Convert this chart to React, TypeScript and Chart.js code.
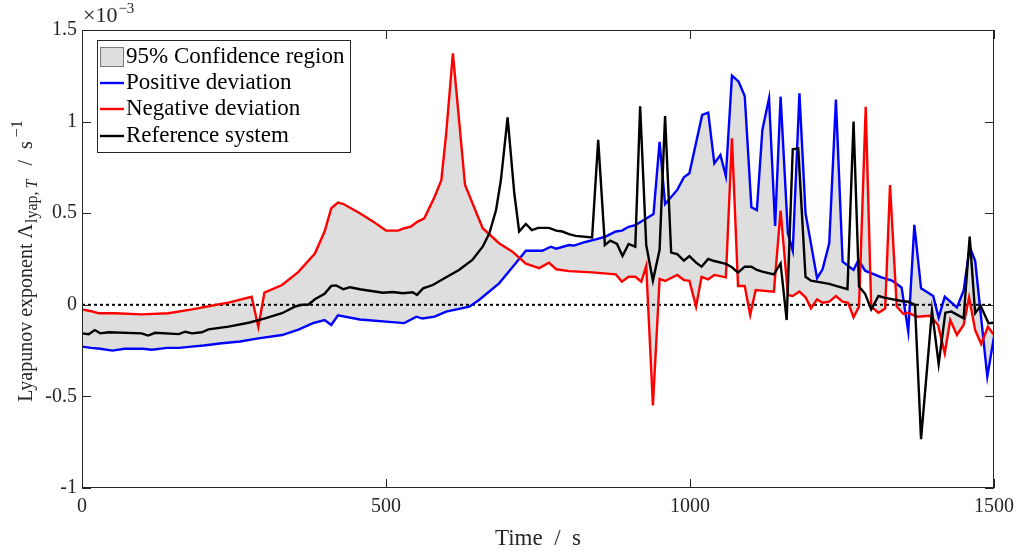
import React, { useEffect, useRef } from "react";
import { Chart, registerables } from "chart.js";

Chart.register(...registerables);

// ---- data (values in units of 1e-3 s^-1) ----
const positiveTime = [0, 15, 30, 50, 70, 100, 115, 140, 160, 180, 200, 230, 260, 290, 329, 356, 380, 399, 410, 421, 457, 500, 530, 550, 560, 580, 599, 637, 653, 686, 713, 730, 757, 771, 780, 801, 809, 828, 845, 861, 878, 888, 899, 910, 924, 940, 950, 959, 979, 990, 999, 1020, 1030, 1040, 1050, 1059, 1069, 1080, 1090, 1101, 1110, 1119, 1130, 1140, 1149, 1161, 1169, 1180, 1190, 1209, 1218, 1229, 1240, 1251, 1269, 1277, 1288, 1315, 1332, 1348, 1359, 1369, 1380, 1400, 1409, 1419, 1439, 1450, 1460, 1469, 1489, 1500];
const positiveValues = [-0.228, -0.235, -0.24, -0.25, -0.24, -0.24, -0.245, -0.235, -0.235, -0.228, -0.222, -0.21, -0.2, -0.183, -0.165, -0.135, -0.1, -0.083, -0.11, -0.058, -0.08, -0.092, -0.1, -0.065, -0.075, -0.065, -0.037, -0.01, 0.026, 0.117, 0.226, 0.295, 0.295, 0.317, 0.306, 0.326, 0.323, 0.343, 0.357, 0.372, 0.4, 0.405, 0.426, 0.435, 0.463, 0.496, 0.89, 0.55, 0.627, 0.696, 0.718, 1.036, 1.049, 0.772, 0.818, 0.703, 1.251, 1.218, 1.14, 0.532, 0.517, 0.954, 1.127, 0.43, 1.136, 0.39, 0.295, 1.154, 0.5, 0.145, 0.194, 0.336, 1.12, 0.235, 0.19, 0.245, 0.186, 0.15, 0.132, 0.095, -0.147, 0.436, 0.09, 0.048, -0.07, 0.044, -0.014, 0.077, 0.317, 0.24, -0.392, -0.174];

const negativeTime = [0, 15, 27, 55, 98, 142, 181, 219, 241, 279, 290, 300, 329, 356, 383, 399, 410, 421, 430, 457, 479, 500, 520, 530, 541, 552, 563, 580, 591, 599, 610, 630, 659, 686, 708, 730, 752, 768, 780, 801, 839, 878, 888, 899, 910, 920, 928, 939, 950, 959, 979, 990, 999, 1010, 1019, 1030, 1040, 1059, 1069, 1079, 1090, 1099, 1108, 1138, 1149, 1161, 1169, 1180, 1190, 1199, 1209, 1218, 1229, 1240, 1251, 1260, 1269, 1278, 1289, 1298, 1310, 1321, 1329, 1340, 1351, 1359, 1373, 1395, 1408, 1419, 1428, 1439, 1450, 1459, 1469, 1479, 1490, 1500];
const negativeValues = [-0.025, -0.035, -0.046, -0.046, -0.052, -0.046, -0.025, -0.001, 0.012, 0.044, -0.12, 0.066, 0.108, 0.18, 0.28, 0.4, 0.527, 0.558, 0.55, 0.5, 0.454, 0.405, 0.405, 0.418, 0.427, 0.454, 0.472, 0.59, 0.68, 0.936, 1.373, 0.654, 0.418, 0.336, 0.29, 0.225, 0.2, 0.23, 0.194, 0.184, 0.177, 0.166, 0.126, 0.153, 0.153, 0.126, 0.212, -0.55, 0.141, 0.13, 0.163, 0.135, 0.131, -0.01, 0.153, 0.139, 0.163, 0.15, 0.909, 0.103, 0.103, -0.056, 0.081, 0.072, 0.514, 0.053, 0.048, 0.072, 0.041, -0.019, 0.03, 0.011, 0.017, 0.048, 0.017, 0.011, -0.068, -0.01, 1.081, -0.01, -0.043, -0.02, 0.654, -0.01, -0.05, -0.043, -0.065, -0.06, -0.11, -0.265, -0.083, -0.165, -0.11, 0.041, -0.138, -0.214, -0.12, -0.165];

const referenceTime = [0, 11, 21, 30, 44, 98, 109, 120, 159, 170, 181, 197, 208, 241, 274, 301, 329, 350, 362, 372, 383, 399, 410, 418, 430, 441, 457, 473, 495, 511, 528, 544, 551, 561, 577, 599, 620, 642, 659, 670, 681, 689, 700, 711, 719, 730, 740, 750, 768, 780, 790, 801, 812, 839, 849, 860, 869, 880, 889, 899, 910, 918, 928, 939, 950, 959, 969, 979, 990, 999, 1010, 1019, 1030, 1040, 1059, 1069, 1079, 1090, 1101, 1110, 1119, 1138, 1149, 1159, 1169, 1178, 1190, 1199, 1229, 1240, 1259, 1269, 1278, 1288, 1298, 1310, 1321, 1348, 1359, 1370, 1380, 1398, 1409, 1420, 1430, 1450, 1460, 1469, 1478, 1491, 1500];
const referenceValues = [-0.156, -0.161, -0.138, -0.156, -0.15, -0.156, -0.168, -0.153, -0.16, -0.147, -0.156, -0.15, -0.134, -0.119, -0.098, -0.074, -0.046, -0.01, 0.0, 0.0, 0.03, 0.06, 0.103, 0.106, 0.085, 0.096, 0.085, 0.077, 0.066, 0.07, 0.063, 0.068, 0.054, 0.09, 0.108, 0.15, 0.19, 0.245, 0.317, 0.39, 0.517, 0.681, 1.023, 0.609, 0.4, 0.441, 0.408, 0.42, 0.42, 0.405, 0.4, 0.386, 0.376, 0.368, 0.9, 0.326, 0.35, 0.332, 0.266, 0.332, 0.317, 1.083, 0.326, 0.132, 0.3, 1.03, 0.285, 0.277, 0.241, 0.266, 0.23, 0.208, 0.25, 0.239, 0.223, 0.205, 0.175, 0.208, 0.208, 0.19, 0.181, 0.166, 0.226, -0.083, 0.849, 0.854, 0.153, 0.132, 0.114, 0.103, 0.085, 1.0, 0.1, 0.06, -0.025, 0.048, 0.038, 0.021, 0.017, 0.0, -0.734, -0.032, -0.323, -0.043, -0.037, -0.074, 0.372, -0.046, -0.006, -0.101, -0.098];

const zeroLineTime = [0, 1500];
const zeroLineValues = [0, 0];

const xTicks = [0, 500, 1000, 1500];
const yTicks = [-1, -0.5, 0, 0.5, 1, 1.5];
const legendLabels = ["95% Confidence region", "Positive deviation", "Negative deviation", "Reference system"];

const FONT = "'Liberation Serif', 'Times New Roman', serif";
const FILL = "rgb(222,222,222)";
const AXIS = "#262626";
const LW = 2.4;

export default function App() {
  const ref = useRef<HTMLCanvasElement>(null);

  useEffect(() => {
    const canvas = ref.current;
    if (!canvas) return;
    const pts = (ts: number[], vs: number[]) => ts.map((t, i) => ({ x: t, y: vs[i] }));

    const decor = {
      id: "decor",
      afterDraw(chart: any) {
        const { ctx, chartArea: a, scales } = chart;
        const xs = scales.x;
        const ys = scales.y;
        ctx.save();
        // ticks (inward, all sides)
        ctx.strokeStyle = AXIS;
        ctx.lineWidth = 1;
        ctx.beginPath();
        for (const v of xTicks) {
          const px = Math.round(xs.getPixelForValue(v)) + 0.5;
          ctx.moveTo(px, a.bottom);
          ctx.lineTo(px, a.bottom - 9);
          ctx.moveTo(px, a.top);
          ctx.lineTo(px, a.top + 9);
        }
        for (const v of yTicks) {
          const py = Math.round(ys.getPixelForValue(v)) + 0.5;
          ctx.moveTo(a.left, py);
          ctx.lineTo(a.left + 9, py);
          ctx.moveTo(a.right, py);
          ctx.lineTo(a.right - 9, py);
        }
        ctx.stroke();
        ctx.strokeRect(Math.round(a.left) + 0.5, Math.round(a.top) + 0.5, Math.round(a.right - a.left) - 1, Math.round(a.bottom - a.top) - 1);

        // legend
        const lx = 97, ly = 40, lw = 253, lh = 112;
        ctx.fillStyle = "#fff";
        ctx.fillRect(lx, ly, lw, lh);
        ctx.strokeStyle = AXIS;
        ctx.strokeRect(lx + 0.5, ly + 0.5, lw, lh);
        const rowBase = [63, 89, 115, 142];
        const colors = ["", "#0000ff", "#ff0000", "#000000"];
        ctx.font = `23px ${FONT}`;
        ctx.textBaseline = "alphabetic";
        ctx.textAlign = "left";
        legendLabels.forEach((lab, i) => {
          const by = rowBase[i];
          if (i === 0) {
            ctx.fillStyle = FILL;
            ctx.fillRect(100, by - 16, 24, 20);
            ctx.strokeStyle = "#7a7a7a";
            ctx.strokeRect(100.5, by - 15.5, 23, 19);
          } else {
            ctx.strokeStyle = colors[i];
            ctx.lineWidth = LW;
            ctx.beginPath();
            ctx.moveTo(100, by - 6);
            ctx.lineTo(124, by - 6);
            ctx.stroke();
            ctx.lineWidth = 1;
          }
          ctx.fillStyle = "#000";
          ctx.fillText(lab, 126, by);
        });

        // exponent label
        ctx.fillStyle = AXIS;
        ctx.font = `22px ${FONT}`;
        ctx.fillText("×10", 83, 22);
        const w10 = ctx.measureText("×10").width;
        ctx.font = `15px ${FONT}`;
        ctx.fillText("−3", 83 + w10 + 1, 13);

        // x title
        ctx.font = `23px ${FONT}`;
        ctx.textAlign = "center";
        ctx.fillText("Time  /  s", (a.left + a.right) / 2, 545);

        // y title (rotated)
        ctx.textAlign = "left";
        const pieces: { t: string; f: string; dy: number; gap: number }[] = [
          { t: "Lyapunov exponent Λ", f: `20px ${FONT}`, dy: 0, gap: 1 },
          { t: "lyap,", f: `16px ${FONT}`, dy: 5, gap: 3 },
          { t: "T", f: `italic 16px ${FONT}`, dy: 5, gap: 14 },
          { t: "/", f: `20px ${FONT}`, dy: 0, gap: 11 },
          { t: "s", f: `20px ${FONT}`, dy: 0, gap: 4 },
          { t: "−1", f: `16px ${FONT}`, dy: -10, gap: 0 },
        ];
        let total = 0;
        const widths = pieces.map((p) => {
          ctx.font = p.f;
          const w = ctx.measureText(p.t).width;
          total += w + p.gap;
          return w;
        });
        ctx.translate(32, 261);
        ctx.rotate(-Math.PI / 2);
        let cx = -total / 2;
        pieces.forEach((p, i) => {
          ctx.font = p.f;
          ctx.fillText(p.t, cx, p.dy);
          cx += widths[i] + p.gap;
        });
        ctx.restore();
      },
    };

    const chart = new Chart(canvas, {
      type: "line",
      data: {
        datasets: [
          {
            label: "zero",
            data: pts(zeroLineTime, zeroLineValues),
            borderColor: "#000",
            borderWidth: 2,
            borderDash: [3, 3],
            pointRadius: 0,
            fill: false,
            order: 3,
          },
          {
            label: legendLabels[1],
            data: pts(positiveTime, positiveValues),
            borderColor: "#0000ff",
            backgroundColor: FILL,
            borderWidth: LW,
            pointRadius: 0,
            tension: 0,
            fill: { target: 2, above: FILL, below: FILL },
            order: 2,
          },
          {
            label: legendLabels[2],
            data: pts(negativeTime, negativeValues),
            borderColor: "#ff0000",
            borderWidth: LW,
            pointRadius: 0,
            tension: 0,
            fill: false,
            order: 1,
          },
          {
            label: legendLabels[3],
            data: pts(referenceTime, referenceValues),
            borderColor: "#000000",
            borderWidth: LW,
            pointRadius: 0,
            tension: 0,
            fill: false,
            order: 0,
          },
        ],
      } as any,
      options: {
        responsive: false,
        animation: false,
        events: [],
        layout: { padding: { top: 30, right: 25, left: 0, bottom: 0 } },
        plugins: {
          legend: { display: false },
          tooltip: { enabled: false },
          filler: { drawTime: "beforeDatasetsDraw" },
        } as any,
        scales: {
          x: {
            type: "linear",
            min: 0,
            max: 1500,
            grid: { display: false, drawTicks: false },
            border: { display: false },
            afterBuildTicks: (s: any) => {
              s.ticks = xTicks.map((v) => ({ value: v }));
            },
            afterFit: (s: any) => {
              s.height = 66;
            },
            ticks: {
              autoSkip: false,
              maxRotation: 0,
              padding: 7,
              color: AXIS,
              font: { family: FONT, size: 20 },
              callback: (v: any) => String(v),
            },
          },
          y: {
            type: "linear",
            min: -1,
            max: 1.5,
            grid: { display: false, drawTicks: false },
            border: { display: false },
            afterBuildTicks: (s: any) => {
              s.ticks = yTicks.map((v) => ({ value: v }));
            },
            afterFit: (s: any) => {
              s.width = 82;
            },
            ticks: {
              autoSkip: false,
              padding: 5,
              color: AXIS,
              font: { family: FONT, size: 20 },
              callback: (v: any) => String(v),
            },
          },
        },
      } as any,
      plugins: [decor],
    });
    return () => chart.destroy();
  }, []);

  return (
    <div style={{ position: "absolute", left: 0, top: 0, width: 1021, height: 554, background: "#fff" }}>
      <canvas ref={ref} width={1021} height={554} style={{ display: "block", width: 1021, height: 554 }} />
    </div>
  );
}
